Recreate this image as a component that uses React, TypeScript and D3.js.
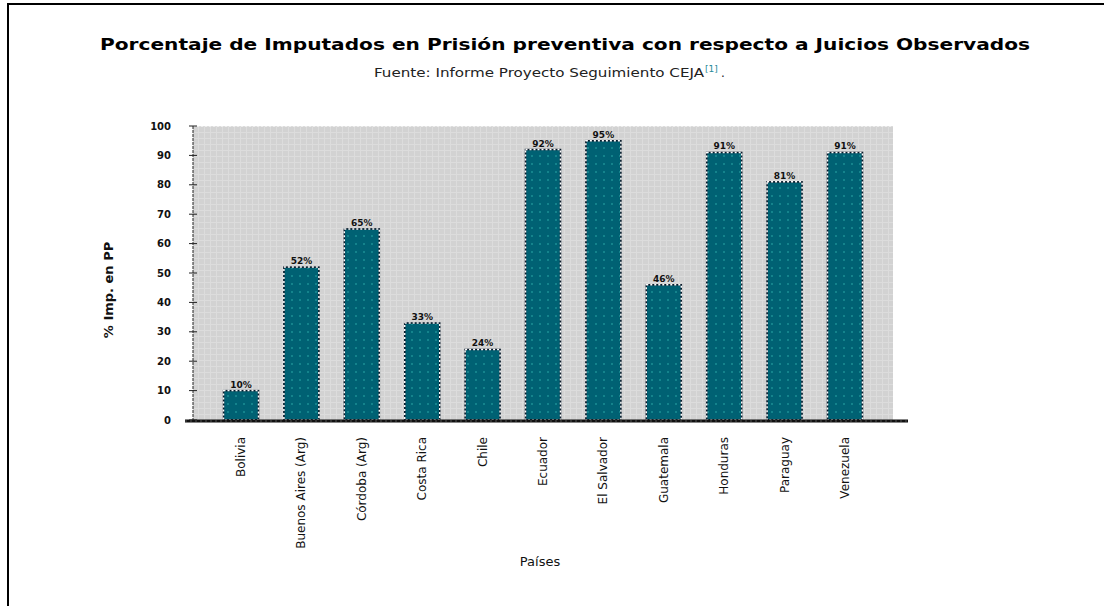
import React from 'react';
import * as d3 from 'd3';

const categories = [
  'Bolivia',
  'Buenos Aires (Arg)',
  'Córdoba (Arg)',
  'Costa Rica',
  'Chile',
  'Ecuador',
  'El Salvador',
  'Guatemala',
  'Honduras',
  'Paraguay',
  'Venezuela',
];
const values = [10, 52, 65, 33, 24, 92, 95, 46, 91, 81, 91];
const yTicks = [0, 10, 20, 30, 40, 50, 60, 70, 80, 90, 100];

const title = 'Porcentaje de Imputados en Prisión preventiva con respecto a Juicios Observados';
const subtitle = 'Fuente: Informe Proyecto Seguimiento CEJA';

const font = '"DejaVu Sans", Verdana, sans-serif';

export default function App() {
  // plot area
  const left = 193;
  const right = 893;
  const top = 126;
  const bottom = 420;

  const x = d3.scaleBand<string>()
    .domain(categories)
    .range([left, right])
    .paddingInner(0.42)
    .paddingOuter(0.505);
  const y = d3.scaleLinear().domain([0, 100]).range([bottom, top]);

  return (
    <svg width={1104} height={606} style={{ position: 'absolute', left: 0, top: 0, background: '#fff' }}>
      <defs>
        <pattern id="plotbg" width={6} height={6} patternUnits="userSpaceOnUse">
          <rect width={6} height={6} fill="#d2d2d2" />
          <rect x={0} y={0} width={6} height={1} fill="#dcdcdc" />
          <rect x={0} y={0} width={1} height={6} fill="#dcdcdc" />
        </pattern>
        <pattern id="barfill" width={8} height={8} patternUnits="userSpaceOnUse">
          <rect width={8} height={8} fill="#006173" />
          <rect x={3} y={3} width={2} height={2} fill="#14838c" />
        </pattern>
      </defs>

      {/* outer frame */}
      <path d="M8,610 V4 H1110" fill="none" stroke="#000" strokeWidth={2} />

      {/* titles */}
      <text x={565} y={50} textAnchor="middle" fontFamily={font} fontWeight="bold" fontSize={15}
        textLength={930} lengthAdjust="spacingAndGlyphs" fill="#000">
        {title}
      </text>
      <text x={374} y={77} fontFamily={font} fontSize={12} fill="#222"
        textLength={330} lengthAdjust="spacingAndGlyphs">
        {subtitle}
      </text>
      <text x={705} y={72} fontFamily={font} fontSize={9} fill="#2a8a9a">[1]</text>
      <text x={721} y={77} fontFamily={font} fontSize={12} fill="#222">.</text>

      {/* plot background */}
      <rect x={left} y={top} width={right - left} height={bottom - top} fill="url(#plotbg)" />
      <line x1={left} x2={right} y1={top} y2={top} stroke="#fff" strokeWidth={1} strokeDasharray="2,2" />

      {/* bars */}
      {categories.map((c, i) => {
        const bx = x(c)!;
        const by = y(values[i]);
        const bw = x.bandwidth();
        const bh = bottom - by;
        return (
          <g key={c}>
            <rect x={bx} y={by} width={bw} height={bh} fill="url(#barfill)" stroke="#0a1a2a" strokeWidth={1.5} />
            <rect x={bx} y={by} width={bw} height={bh} fill="none" stroke="#fff" strokeWidth={1.5} strokeDasharray="2,2" />
            <text x={bx + bw / 2} y={by - 3} textAnchor="middle" fontFamily={font} fontWeight="bold"
              fontSize={9} fill="#111">
              {values[i]}%
            </text>
          </g>
        );
      })}

      {/* y axis */}
      <line x1={left} x2={left} y1={top} y2={bottom} stroke="#222" strokeWidth={1} strokeDasharray="3,1" />
      {yTicks.map(t => (
        <g key={t}>
          <line x1={left - 4} x2={left + 4} y1={y(t)} y2={y(t)} stroke="#222" strokeWidth={1} />
          <text x={171} y={y(t)} dy="0.35em" textAnchor="end" fontFamily={font} fontWeight="bold"
            fontSize={10} fill="#111">
            {t}
          </text>
        </g>
      ))}

      {/* x axis */}
      <line x1={left - 8} x2={908} y1={bottom + 1} y2={bottom + 1} stroke="#111" strokeWidth={3} />
      <line x1={left - 8} x2={908} y1={bottom + 1} y2={bottom + 1} stroke="#555" strokeWidth={1}
        strokeDasharray="2,3" />
      {categories.map(c => (
        <text key={c} transform={`translate(${x(c)! + x.bandwidth() / 2 + 4},${bottom + 17}) rotate(-90)`}
          textAnchor="end" fontFamily={font} fontSize={12} fill="#111">
          {c}
        </text>
      ))}

      {/* axis titles */}
      <text transform={`translate(113,290) rotate(-90)`} textAnchor="middle"
        fontFamily={font} fontWeight="bold" fontSize={13} fill="#111">
        % Imp. en PP
      </text>
      <text x={540} y={566} textAnchor="middle" fontFamily={font} fontSize={13} fill="#111">
        Países
      </text>
    </svg>
  );
}
